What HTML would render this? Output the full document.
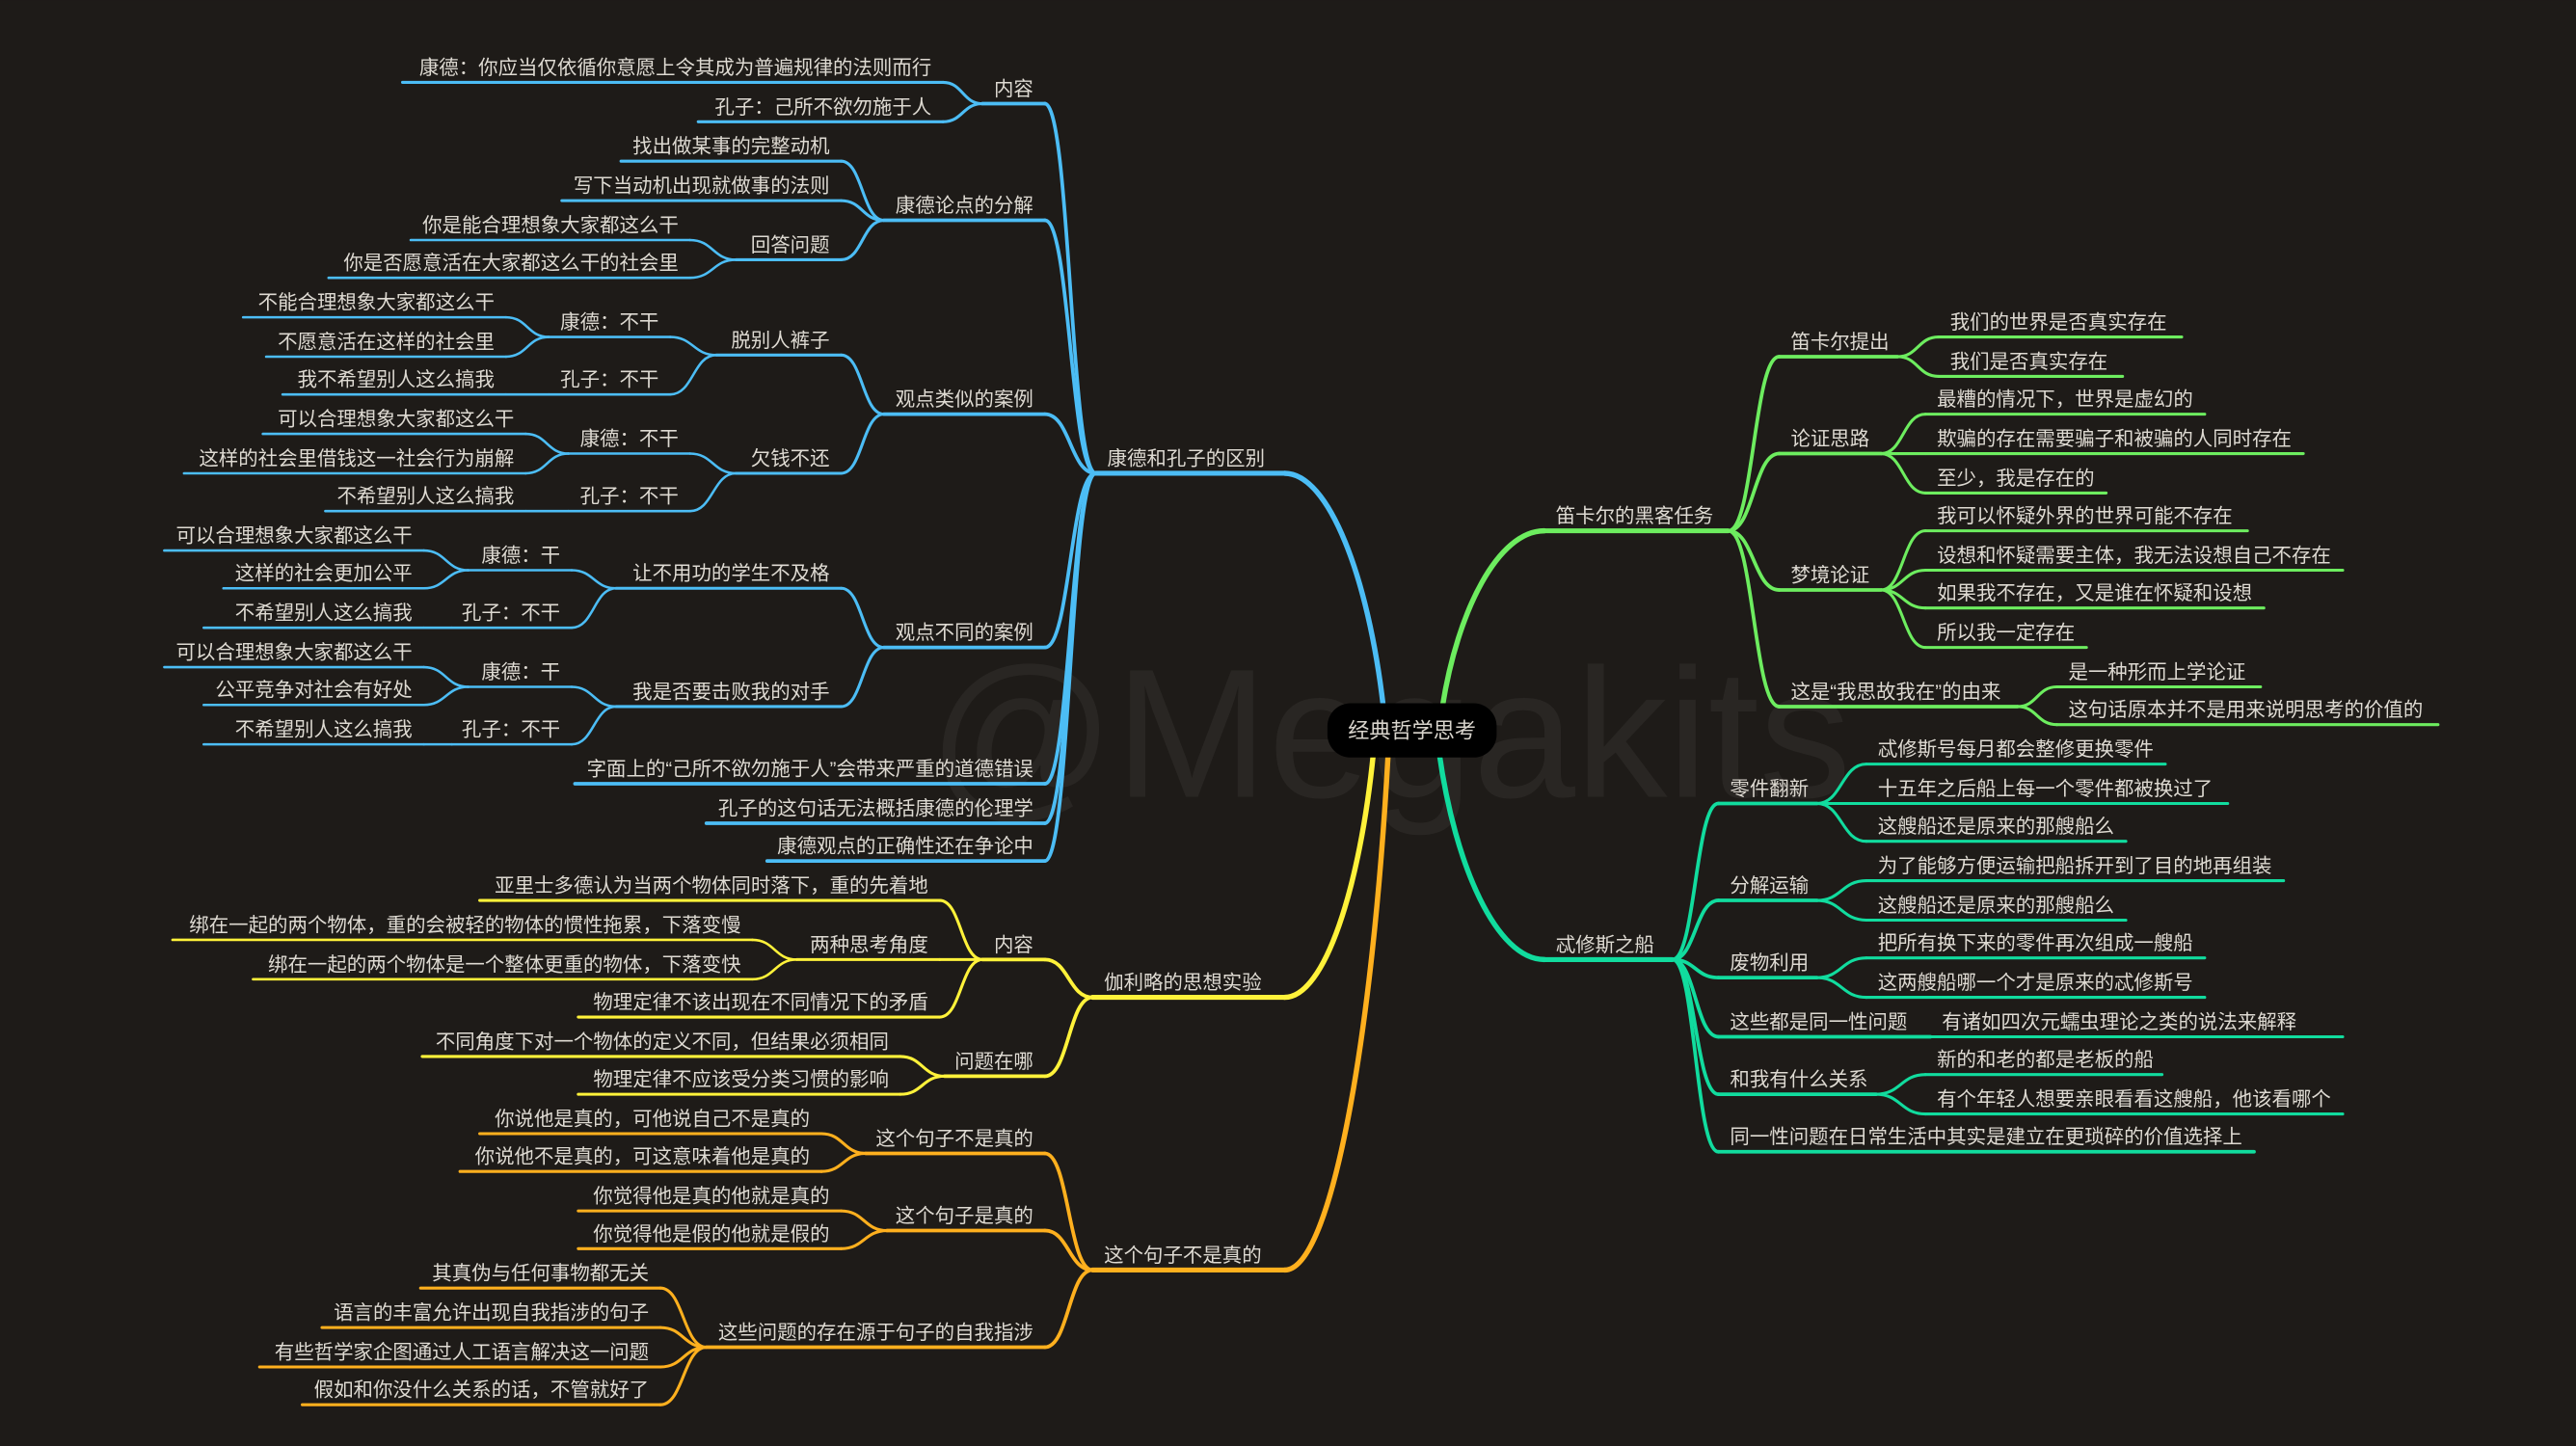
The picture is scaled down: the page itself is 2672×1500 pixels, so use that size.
<!DOCTYPE html>
<html><head><meta charset="utf-8"><style>
html,body{margin:0;padding:0;background:#1e1b18;}
svg{display:block}
text{font-family:"Liberation Sans","Noto Sans CJK SC",sans-serif;fill:#dedad2;font-size:12px}
</style></head><body>
<svg id="s" width="2672" height="1500" viewBox="0 0 1568 880" xmlns="http://www.w3.org/2000/svg">
<rect width="1568" height="880" fill="#1e1b18"/>
<text x="565" y="485" style="font-size:112px;fill:#292623">@Megakits</text>
<g id="g"></g>
<rect x="808" y="428" width="103" height="33" rx="14" fill="#000"/>
<text x="859.5" y="449" text-anchor="middle" style="font-size:13px;fill:#d8d4cc">经典哲学思考</text>
</svg>
<script>
var B='#4cbdf5',Y='#fff23a',O='#ffb01e',G='#6ded5f',T='#11dc9e';
var blue=['康德和孔子的区别',667,782,288,[
 ['内容',598,636,63,[['康德：你应当仅依循你意愿上令其成为普遍规律的法则而行',245,574,50],['孔子：己所不欲勿施于人',425,574,74]]],
 ['康德论点的分解',538,636,134,[['找出做某事的完整动机',378,512,98],['写下当动机出现就做事的法则',342,512,122],
   ['回答问题',448,512,158,[['你是能合理想象大家都这么干',250,420,146],['你是否愿意活在大家都这么干的社会里',200,420,169]]]]],
 ['观点类似的案例',538,636,252,[
   ['脱别人裤子',436,512,216,[['康德：不干',334,408,205,[['不能合理想象大家都这么干',148,308,193],['不愿意活在这样的社会里',162,308,217]]],['孔子：不干',334,408,240,[['我不希望别人这么搞我',172,308,240]]]]],
   ['欠钱不还',448,512,288,[['康德：不干',346,420,276,[['可以合理想象大家都这么干',160,320,264],['这样的社会里借钱这一社会行为崩解',112,320,288]]],['孔子：不干',346,420,311,[['不希望别人这么搞我',198,320,311]]]]]]],
 ['观点不同的案例',538,636,394,[
   ['让不用功的学生不及格',375,512,358,[['康德：干',285,348,347,[['可以合理想象大家都这么干',100,258,335],['这样的社会更加公平',136,258,358]]],['孔子：不干',275,348,382,[['不希望别人这么搞我',124,258,382]]]]],
   ['我是否要击败我的对手',375,512,430,[['康德：干',285,348,418,[['可以合理想象大家都这么干',100,258,406],['公平竞争对社会有好处',124,258,429]]],['孔子：不干',275,348,453,[['不希望别人这么搞我',124,258,453]]]]]]],
 ['字面上的“己所不欲勿施于人”会带来严重的道德错误',350,636,477],
 ['孔子的这句话无法概括康德的伦理学',430,636,501],
 ['康德观点的正确性还在争论中',467,636,524]]];
var yel=['伽利略的思想实验',665,782,607,[
 ['内容',598,636,584,[['亚里士多德认为当两个物体同时落下，重的先着地',292,572,548],
   ['两种思考角度',485,572,584,[['绑在一起的两个物体，重的会被轻的物体的惯性拖累，下落变慢',105,458,572],['绑在一起的两个物体是一个整体更重的物体，下落变快',154,458,596]]],
   ['物理定律不该出现在不同情况下的矛盾',352,572,619]]],
 ['问题在哪',575,636,655,[['不同角度下对一个物体的定义不同，但结果必须相同',257,548,643],['物理定律不应该受分类习惯的影响',352,548,666]]]]];
var ora=['这个句子不是真的',665,782,773,[
 ['这个句子不是真的',527,636,702,[['你说他是真的，可他说自己不是真的',292,500,690],['你说他不是真的，可这意味着他是真的',280,500,713]]],
 ['这个句子是真的',540,636,749,[['你觉得他是真的他就是真的',352,512,737],['你觉得他是假的他就是假的',352,512,760]]],
 ['这些问题的存在源于句子的自我指涉',430,636,820,[['其真伪与任何事物都无关',256,402,784],['语言的丰富允许出现自我指涉的句子',196,402,808],['有些哲学家企图通过人工语言解决这一问题',158,402,832],['假如和你没什么关系的话，不管就好了',184,402,855]]]]];
var gre=['笛卡尔的黑客任务',940,1052,323,[
 ['笛卡尔提出',1083,1155,217,[['我们的世界是否真实存在',1180,1328,205],['我们是否真实存在',1180,1292,229]]],
 ['论证思路',1083,1145,276,[['最糟的情况下，世界是虚幻的',1172,1342,252],['欺骗的存在需要骗子和被骗的人同时存在',1172,1402,276],['至少，我是存在的',1172,1282,300]]],
 ['梦境论证',1083,1145,359,[['我可以怀疑外界的世界可能不存在',1172,1368,323],['设想和怀疑需要主体，我无法设想自己不存在',1172,1426,347],['如果我不存在，又是谁在怀疑和设想',1172,1378,370],['所以我一定存在',1172,1270,394]]],
 ['这是“我思故我在”的由来',1083,1228,430,[['是一种形而上学论证',1252,1376,418],['这句话原本并不是用来说明思考的价值的',1252,1484,441]]]]];
var tea=['忒修斯之船',940,1018,584,[
 ['零件翻新',1046,1106,489,[['忒修斯号每月都会整修更换零件',1136,1318,465],['十五年之后船上每一个零件都被换过了',1136,1356,489],['这艘船还是原来的那艘船么',1136,1294,512]]],
 ['分解运输',1046,1106,548,[['为了能够方便运输把船拆开到了目的地再组装',1136,1390,536],['这艘船还是原来的那艘船么',1136,1294,560]]],
 ['废物利用',1046,1106,595,[['把所有换下来的零件再次组成一艘船',1136,1342,583],['这两艘船哪一个才是原来的忒修斯号',1136,1342,607]]],
 ['这些都是同一性问题',1046,1175,631,[['有诸如四次元蠕虫理论之类的说法来解释',1175,1426,631]]],
 ['和我有什么关系',1046,1142,666,[['新的和老的都是老板的船',1172,1316,654],['有个年轻人想要亲眼看看这艘船，他该看哪个',1172,1426,678]]],
 ['同一性问题在日常生活中其实是建立在更琐碎的价值选择上',1046,1372,701]]];
var out='';
function path(d,c,w){out+='<path d="'+d+'" fill="none" stroke="'+c+'" stroke-width="'+w+'" stroke-linecap="round"/>';}
var W=[3,2.2,1.8,1.5,1.5];
function node(n,c,left,dep){
 var w=W[dep];
 path('M'+n[1]+' '+n[3]+'H'+n[2],c,w);
 if(left&&dep>0) out+='<text x="'+(n[2]-7)+'" y="'+(n[3]-5)+'" text-anchor="end">'+n[0]+'</text>';
 else out+='<text x="'+(n[1]+7)+'" y="'+(n[3]-5)+'">'+n[0]+'</text>';
 if(n[4]) n[4].forEach(function(k){
  var px=left?n[1]:n[2],py=n[3],cx=left?k[2]:k[1],cy=k[3];
  if(cy==py){path('M'+px+' '+py+'H'+cx,c,W[dep+1]);}
  else{var m=(px+cx)/2;path('M'+px+' '+py+'C'+m+' '+py+' '+m+' '+cy+' '+cx+' '+cy,c,W[dep+1]);}
  node(k,c,left,dep+1);
 });
}
function main(n,c,left,sx,sy){
 var ex=left?n[2]:n[1],ey=n[3],dx=sx-ex;
 path('M'+sx+' '+sy+'C'+(sx-dx*0.15)+' '+(sy+(ey-sy)*0.55)+' '+(sx-dx*0.55)+' '+ey+' '+ex+' '+ey,c,3.2);
 node(n,c,left,0);
}
main(blue,B,true,842,430);
main(yel,Y,true,836,458);
main(ora,O,true,845,458);
main(gre,G,false,878,430);
main(tea,T,false,876,458);
document.getElementById('g').innerHTML=out;
</script>
</body></html>
